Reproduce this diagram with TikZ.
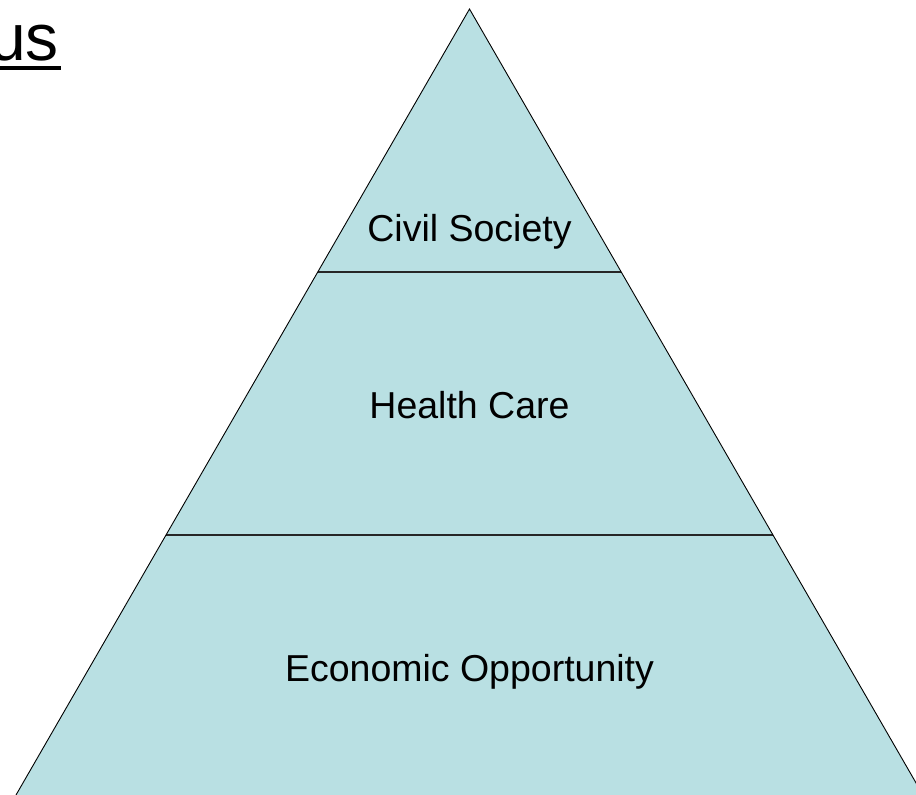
\documentclass[tikz,border=0pt]{standalone}
\usepackage{fontspec}
\setmainfont{Liberation Sans}
\definecolor{pyrfill}{RGB}{185,224,227}
\begin{document}
\begin{tikzpicture}[x=1pt,y=1pt,
  tier/.style={fill=pyrfill,draw=none},
  edge/.style={draw=black,line width=0.9pt},
  divider/.style={draw=black!85,line width=1.5pt},
  lbl/.style={font=\fontsize{37.5}{42}\selectfont,anchor=base,inner sep=0pt}]
\useasboundingbox (0,0) rectangle (916,-795);
\clip (0,0) rectangle (916,-795);
% key points
\coordinate (apex) at (469.5,-9);
\coordinate (bl) at (16,-795);
\coordinate (br) at (923,-795);
\coordinate (d1l) at (317.8,-272);
\coordinate (d1r) at (621.2,-272);
\coordinate (d2l) at (166,-535);
\coordinate (d2r) at (773,-535);
% fill
\path[tier] (apex) -- (bl) -- (br) -- cycle;
% dividers
\draw[divider] (d1l) -- (d1r);
\draw[divider] (d2l) -- (d2r);
% outline
\draw[edge,line join=miter] (bl) -- (apex) -- (br);
% labels
\node[lbl] (civil) at (469.5,-241) {Civil Society};
\node[lbl] (health) at (469.5,-418) {Health Care};
\node[lbl] (econ) at (469.5,-681) {Economic Opportunity};
% clipped title
\node[font=\fontsize{66}{72}\selectfont,anchor=base east,inner sep=0pt] (title) at (59,-60) {us};
\draw[line width=4pt] (0,-68) -- (61,-68);
\end{tikzpicture}
\end{document}
